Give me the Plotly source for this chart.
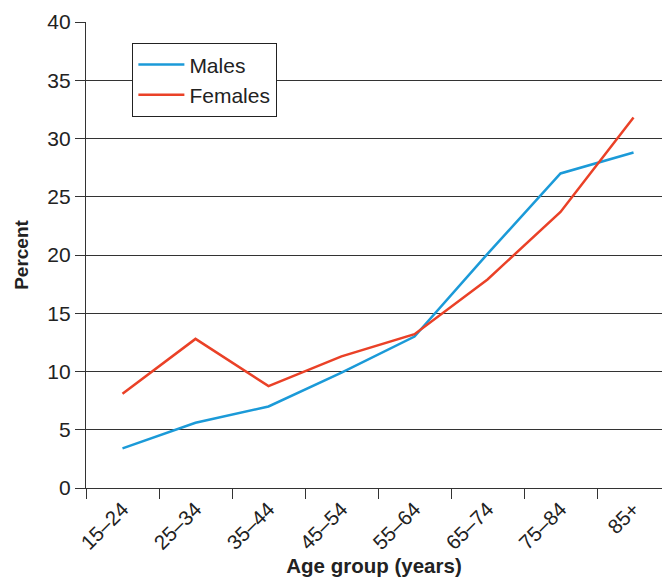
import plotly.graph_objects as go

age_groups = ["15–24", "25–34", "35–44", "45–54", "55–64", "65–74", "75–84", "85+"]
males = [3.4, 5.6, 7.0, 9.9, 13.0, 20.1, 27.0, 28.8]
females = [8.1, 12.8, 8.75, 11.3, 13.2, 17.9, 23.7, 31.8]
y_ticks = [0, 5, 10, 15, 20, 25, 30, 35, 40]

font_family = "Liberation Sans, Arial, sans-serif"
axis_color = "#333333"

fig = go.Figure()
fig.add_trace(go.Scatter(x=age_groups, y=males, mode="lines", name="Males",
                         line=dict(color="#1b9ad8", width=2.5)))
fig.add_trace(go.Scatter(x=age_groups, y=females, mode="lines", name="Females",
                         line=dict(color="#ea4127", width=2.5)))

fig.update_layout(
    width=662, height=577,
    margin=dict(l=86, r=0, t=22, b=89),
    paper_bgcolor="white", plot_bgcolor="white",
    font=dict(family=font_family, size=21, color="#222222"),
    showlegend=True,
    legend=dict(x=0.08, y=0.955, xanchor="left", yanchor="top",
                bgcolor="white", bordercolor="#222222", borderwidth=1.3,
                font=dict(size=21), tracegroupgap=0, itemwidth=46),
    xaxis=dict(
        type="category", range=[-0.5, 7.39],
        tickson="boundaries", ticks="outside", ticklen=10, tickwidth=1.3,
        tickcolor=axis_color, tickangle=-45,
        showgrid=False, showline=True, linecolor=axis_color, linewidth=1.3,
        tickfont=dict(size=20.5),
        title=dict(text="<b>Age group (years)</b>", font=dict(size=20.5), standoff=4),
    ),
    yaxis=dict(
        range=[0, 40], tickvals=y_ticks, ticks="outside", ticklen=10,
        tickwidth=1.3, tickcolor=axis_color,
        showgrid=True, gridcolor=axis_color, gridwidth=1.3,
        showline=True, linecolor=axis_color, linewidth=1.3,
        zeroline=False, tickfont=dict(size=21),
        title=dict(text="<b>Percent</b>", font=dict(size=19), standoff=13),
    ),
)

fig.write_html("out.html")
